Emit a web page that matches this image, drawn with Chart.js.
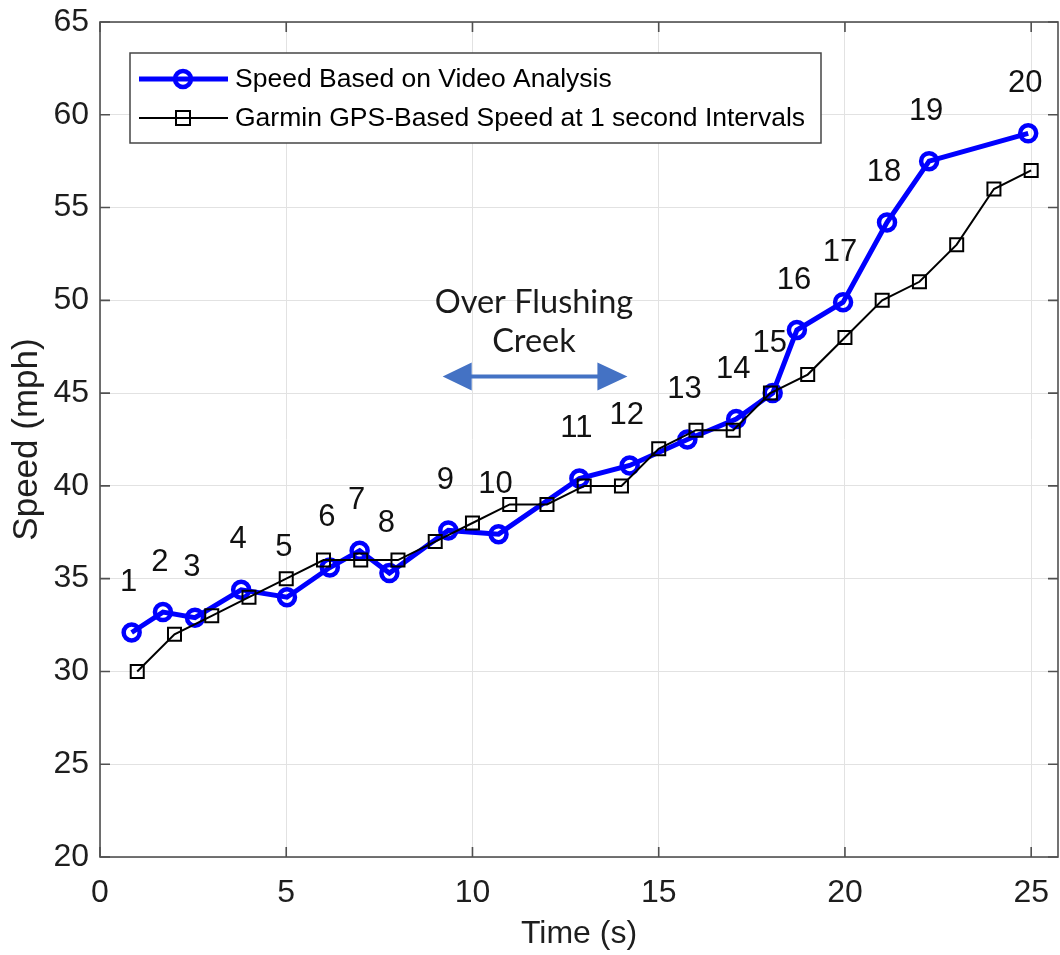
<!DOCTYPE html>
<html>
<head>
<meta charset="utf-8">
<script src="https://cdn.jsdelivr.net/npm/chart.js@4.4.1/dist/chart.umd.min.js"></script>
<style>
html,body{margin:0;padding:0;background:#fff;}
#grafico{display:block;}
</style>
</head>
<body>
<canvas id="grafico" width="1060" height="955"></canvas>
<script>

// video analysis points (numbered 1..20 in the figure)
const videoTime = [0.85, 1.69, 2.55, 3.79, 5.02, 6.17, 6.97, 7.77, 9.35, 10.70, 12.87, 14.22, 15.77, 17.08, 18.06, 18.71, 19.95, 21.13, 22.26, 24.92];
const videoSpeed = [32.1, 33.2, 32.9, 34.4, 34.0, 35.6, 36.5, 35.3, 37.6, 37.4, 40.4, 41.1, 42.5, 43.6, 45.0, 48.4, 49.9, 54.2, 57.5, 59.0];
const pointNames = ["1","2","3","4","5","6","7","8","9","10","11","12","13","14","15","16","17","18","19","20"];

// garmin gps, one reading per second
const gpsTime = [1,2,3,4,5,6,7,8,9,10,11,12,13,14,15,16,17,18,19,20,21,22,23,24,25];
const gpsSpeed = [30,32,33,34,35,36,36,36,37,38,39,39,40,40,42,43,43,45,46,48,50,51,53,56,57];

const xTicks = [0, 5, 10, 15, 20, 25];
const yTicks = [20, 25, 30, 35, 40, 45, 50, 55, 60, 65];

const seriesNames = ["Speed Based on Video Analysis", "Garmin GPS-Based Speed at 1 second Intervals"];
const noteLines = ["Over Flushing", "Creek"];

const fuente = "'Liberation Sans', Arial, sans-serif";
const gris = "#1e1e1e";

function puntos(xs, ys){
  let out = [];
  for(let i=0;i<xs.length;i++){
    out.push({x: xs[i], y: ys[i]});
  }
  return out;
}

const extras = {
  id: "extras",

  beforeDatasetsDraw(chart){
    const c = chart.ctx;
    const a = chart.chartArea;
    const sx = chart.scales.x;
    const sy = chart.scales.y;
    c.save();
    c.strokeStyle = "#505050";
    c.lineWidth = 1.6;
    c.strokeRect(a.left, a.top, a.right - a.left, a.bottom - a.top);
    c.beginPath();
    for(let i=0;i<xTicks.length;i++){
      let px = sx.getPixelForValue(xTicks[i]);
      c.moveTo(px, a.bottom); c.lineTo(px, a.bottom - 10);
      c.moveTo(px, a.top); c.lineTo(px, a.top + 10);
    }
    for(let i=0;i<yTicks.length;i++){
      let py = sy.getPixelForValue(yTicks[i]);
      c.moveTo(a.left, py); c.lineTo(a.left + 10, py);
      c.moveTo(a.right, py); c.lineTo(a.right - 10, py);
    }
    c.stroke();
    c.restore();
  },

  afterDatasetsDraw(chart){
    const c = chart.ctx;
    const sx = chart.scales.x;
    const sy = chart.scales.y;
    c.save();

    // point numbers above the video points
    c.fillStyle = "#111";
    c.font = "31px " + fuente;
    c.textAlign = "center";
    c.textBaseline = "middle";
    for(let i=0;i<videoTime.length;i++){
      let px = sx.getPixelForValue(videoTime[i]) - 3;
      let py = sy.getPixelForValue(videoSpeed[i]) - 50;
      c.fillText(pointNames[i], px, py);
    }

    // "Over Flushing Creek" note with double arrow
    c.font = "32.5px Lato, 'Open Sans', sans-serif";
    c.fillStyle = "#1a1a1a";
    let tx = sx.getPixelForValue(11.65);
    c.fillText(noteLines[0], tx, sy.getPixelForValue(49.9));
    c.fillText(noteLines[1], tx, sy.getPixelForValue(47.8));

    let x1 = sx.getPixelForValue(9.2);
    let x2 = sx.getPixelForValue(14.16);
    let ay = sy.getPixelForValue(45.9);
    c.strokeStyle = "#4472C4";
    c.fillStyle = "#4472C4";
    c.lineWidth = 4;
    c.beginPath();
    c.moveTo(x1 + 20, ay); c.lineTo(x2 - 20, ay);
    c.stroke();
    c.beginPath();
    c.moveTo(x1, ay); c.lineTo(x1 + 29, ay - 14); c.lineTo(x1 + 29, ay + 14); c.closePath();
    c.moveTo(x2, ay); c.lineTo(x2 - 30, ay - 14); c.lineTo(x2 - 30, ay + 14); c.closePath();
    c.fill();
    c.restore();
  },

  afterDraw(chart){
    const c = chart.ctx;
    c.save();
    c.fillStyle = "#fff";
    c.fillRect(130, 53, 691, 90);
    c.strokeStyle = "#454545";
    c.lineWidth = 1.5;
    c.strokeRect(130, 53, 691, 90);

    c.strokeStyle = "#0000FF";
    c.lineWidth = 5;
    c.beginPath(); c.moveTo(139, 79); c.lineTo(228, 79); c.stroke();
    c.lineWidth = 4.5;
    c.beginPath(); c.arc(183, 79, 8, 0, Math.PI*2); c.stroke();

    c.strokeStyle = "#000";
    c.lineWidth = 2;
    c.beginPath(); c.moveTo(139, 118); c.lineTo(228, 118); c.stroke();
    c.strokeRect(176, 111, 14, 14);

    c.fillStyle = "#000";
    c.font = "26.5px " + fuente;
    c.textAlign = "left";
    c.textBaseline = "middle";
    c.fillText(seriesNames[0], 235, 80);
    c.fillText(seriesNames[1], 235, 119);
    c.restore();
  }
};

const ctx = document.getElementById("grafico");

let grafico = new Chart(ctx, {

type: "line",

data: {
datasets: [
{
label: seriesNames[0],
data: puntos(videoTime, videoSpeed),
borderColor: "#0000FF",
borderWidth: 5,
pointStyle: "circle",
pointRadius: 8,
pointBorderWidth: 4.5,
pointBorderColor: "#0000FF",
pointBackgroundColor: "rgba(0,0,0,0)",
fill: false,
tension: 0,
order: 2
},
{
label: seriesNames[1],
data: puntos(gpsTime, gpsSpeed),
borderColor: "#000",
borderWidth: 2,
pointStyle: "rect",
pointRadius: 9.2,
pointBorderWidth: 2,
pointBorderColor: "#000",
pointBackgroundColor: "rgba(0,0,0,0)",
fill: false,
tension: 0,
order: 1
}
]
},

options:{
responsive: false,
animation: false,
devicePixelRatio: 1,
layout: {autoPadding: false, padding: {top: 22, right: 2, left: 0, bottom: 0}},
plugins: {legend: {display: false}, tooltip: {enabled: false}},
scales: {
x: {
type: "linear",
min: 0,
max: 25.72,
afterBuildTicks: function(s){ s.ticks = xTicks.map(v => ({value: v})); },
ticks: {font: {family: fuente, size: 32}, color: gris, padding: 17, maxRotation: 0, autoSkip: false},
grid: {color: "#e2e2e2", lineWidth: 1, drawTicks: false},
border: {display: false},
title: {display: true, text: "Time (s)", font: {family: fuente, size: 32}, color: gris, padding: {top: 0, bottom: 2}},
afterFit: function(s){ s.height = 98; s.paddingLeft = 0; s.paddingRight = 0; }
},
y: {
type: "linear",
min: 20,
max: 65,
afterBuildTicks: function(s){ s.ticks = yTicks.map(v => ({value: v})); },
ticks: {font: {family: fuente, size: 32}, color: gris, padding: 11, autoSkip: false},
grid: {color: "#e2e2e2", lineWidth: 1, drawTicks: false},
border: {display: false},
title: {display: true, text: "Speed (mph)", font: {family: fuente, size: 35}, color: gris, padding: {top: 6, bottom: 0}},
afterFit: function(s){ s.width = 100; s.paddingTop = 0; s.paddingBottom = 0; }
}
}
},

plugins: [extras]

});

</script>
</body>
</html>
